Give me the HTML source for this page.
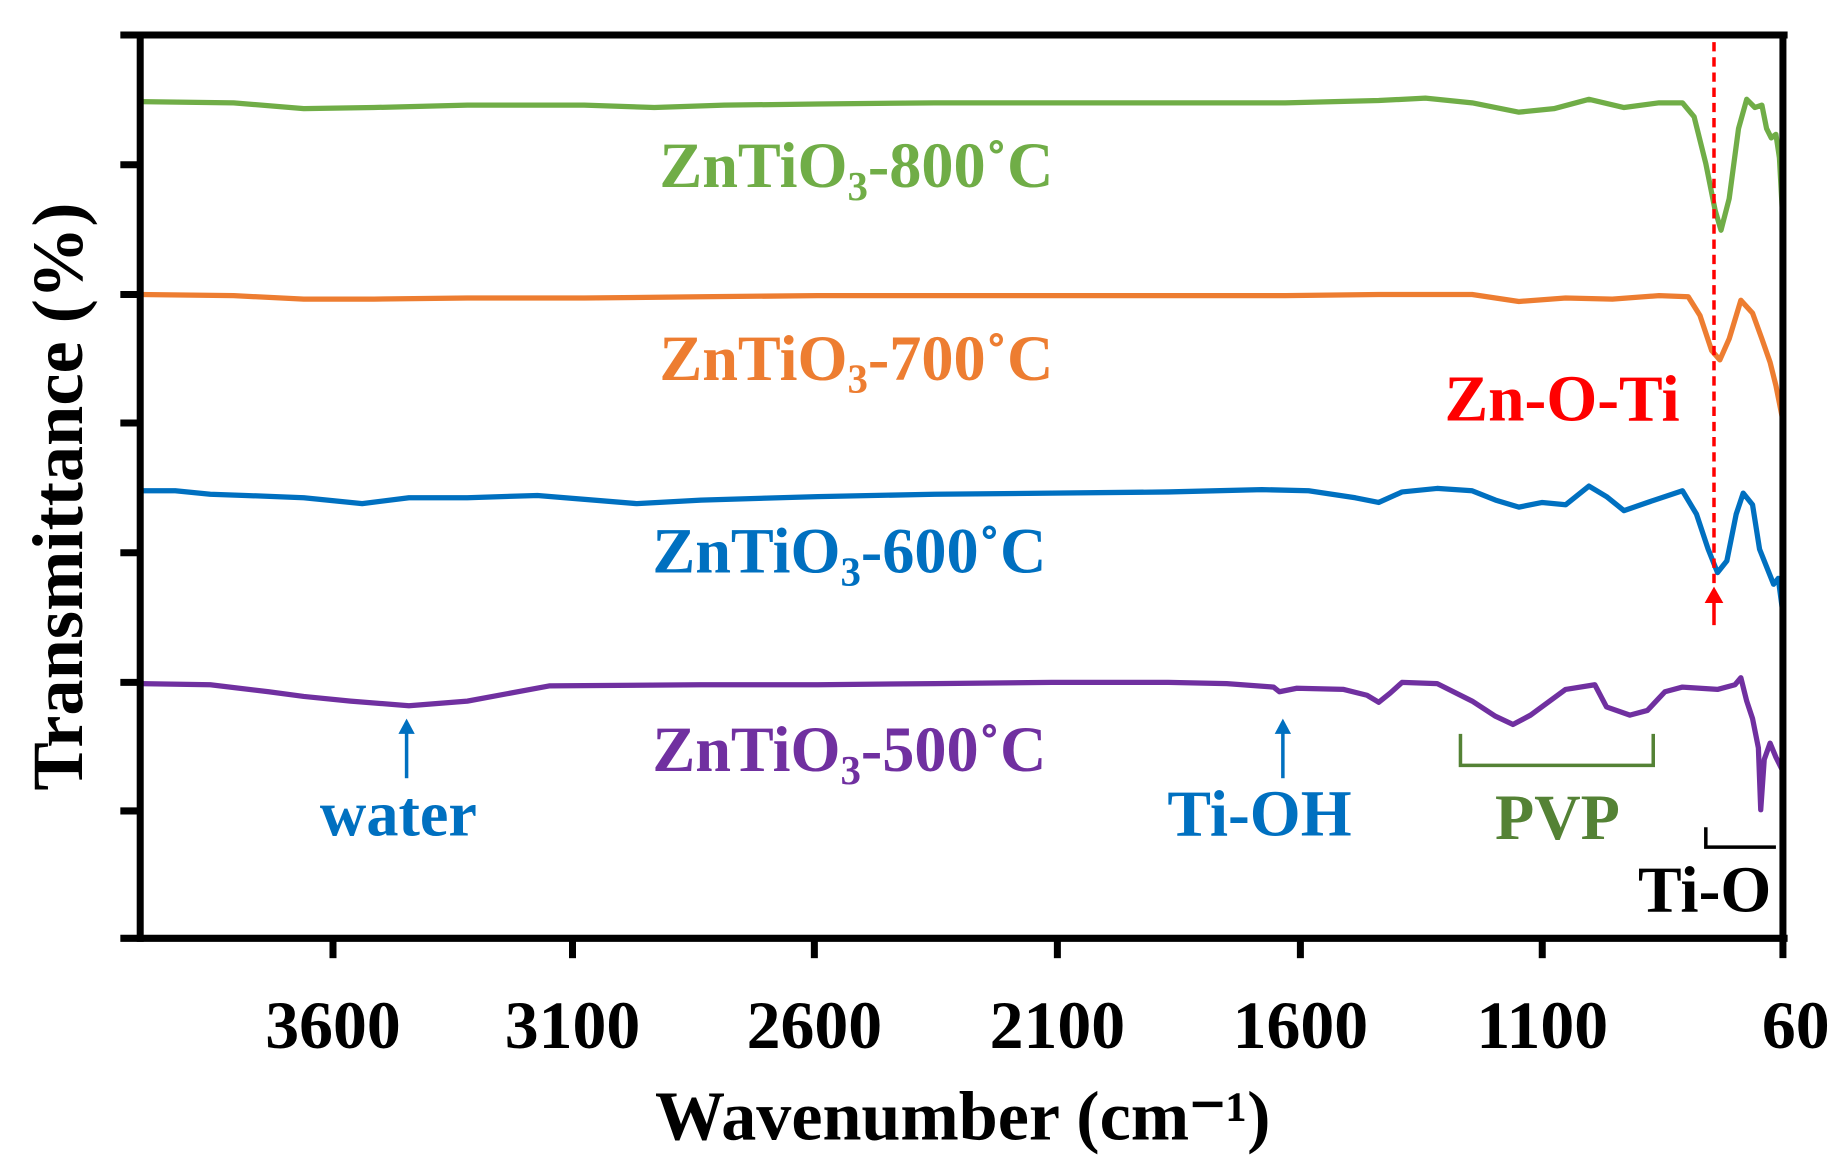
<!DOCTYPE html>
<html><head><meta charset="utf-8"><style>
html,body{margin:0;padding:0;background:#fff;}
svg{display:block;}
text{font-family:"Liberation Serif",serif;font-weight:bold;}
</style></head><body>
<svg width="1832" height="1165" viewBox="0 0 1568 997" preserveAspectRatio="none">
<g fill="none" stroke-linejoin="round" stroke-linecap="round" stroke-width="4.5">
<polyline stroke="#70ad47" points="120,87 200,88 260,93 320,92 400,90 500,90 560,92 620,90 700,89 800,88 900,88 1000,88 1100,88 1180,86 1220,84 1260,88 1300,96 1330,93 1360,85 1390,92 1420,88 1440,88 1450,100 1460,140 1468,180 1473,197 1480,170 1488,110 1495,85 1502,92 1508,90 1512,110 1516,118 1520,115 1523,135 1526,190"/>
<polyline stroke="#ed7d31" points="120,252 200,253 260,256 320,256 400,255 500,255 600,254 700,253 800,253 900,253 1000,253 1100,253 1180,252 1260,252 1300,258 1340,255 1380,256 1420,253 1445,254 1455,270 1465,300 1472,308 1480,290 1490,257 1500,268 1508,290 1515,310 1520,330 1526,360"/>
<polyline stroke="#0070c0" points="120,420 150,420 180,423 210,424 260,426 310,431 350,426 400,426 460,424 545,431 600,428 700,425 800,423 900,422 1000,421 1080,419 1120,420 1160,426 1180,430 1200,421 1230,418 1260,420 1280,428 1300,434 1320,430 1340,432 1360,416 1375,425 1390,437 1410,430 1440,420 1452,440 1462,470 1470,490 1478,480 1486,440 1492,422 1500,432 1506,470 1512,485 1518,500 1522,495 1526,525"/>
<polyline stroke="#7030a0" points="120,585 180,586 230,592 260,596 300,600 350,604 400,600 470,587 600,586 700,586 800,585 900,584 1000,584 1050,585 1090,588 1095,592 1110,589 1150,590 1170,595 1180,601 1190,593 1200,584 1230,585 1260,600 1280,613 1295,620 1310,612 1340,590 1365,586 1375,605 1395,612 1410,608 1425,592 1440,588 1470,590 1485,586 1490,580 1495,600 1500,615 1505,640 1507,693 1510,650 1515,636 1520,648 1526,660"/>
</g>
<g stroke="#000" stroke-width="6" fill="none">
<line x1="120" y1="28" x2="120" y2="806"/>
<line x1="103" y1="30" x2="1530" y2="30"/>
<line x1="103" y1="803" x2="1530" y2="803"/>
<line x1="1526" y1="30" x2="1526" y2="820"/>
<line x1="103" y1="141" x2="120" y2="141"/>
<line x1="103" y1="252" x2="120" y2="252"/>
<line x1="103" y1="362" x2="120" y2="362"/>
<line x1="103" y1="473" x2="120" y2="473"/>
<line x1="103" y1="584" x2="120" y2="584"/>
<line x1="103" y1="694" x2="120" y2="694"/>
<line x1="285" y1="803" x2="285" y2="820"/>
<line x1="490" y1="803" x2="490" y2="820"/>
<line x1="697" y1="803" x2="697" y2="820"/>
<line x1="905" y1="803" x2="905" y2="820"/>
<line x1="1113" y1="803" x2="1113" y2="820"/>
<line x1="1320" y1="803" x2="1320" y2="820"/>
</g>
<g font-size="58" text-anchor="middle" fill="#000">
<text x="285" y="897">3600</text>
<text x="490" y="897">3100</text>
<text x="697" y="897">2600</text>
<text x="905" y="897">2100</text>
<text x="1113" y="897">1600</text>
<text x="1320" y="897">1100</text>
<text x="1508" y="897" text-anchor="start">600</text>
</g>
<text x="824" y="975" font-size="60" text-anchor="middle">Wavenumber (cm⁻¹)</text>
<text transform="translate(70,425) rotate(-90)" font-size="62" text-anchor="middle">Transmittance (%)</text>
<g font-size="55" text-anchor="middle">
<text x="733" y="160" fill="#70ad47">ZnTiO<tspan font-size="35" dy="11">3</tspan><tspan dy="-11">-800˚C</tspan></text>
<text x="733" y="325" fill="#ed7d31">ZnTiO<tspan font-size="35" dy="11">3</tspan><tspan dy="-11">-700˚C</tspan></text>
<text x="727" y="490" fill="#0070c0">ZnTiO<tspan font-size="35" dy="11">3</tspan><tspan dy="-11">-600˚C</tspan></text>
<text x="727" y="660" fill="#7030a0">ZnTiO<tspan font-size="35" dy="11">3</tspan><tspan dy="-11">-500˚C</tspan></text>
</g>
<line x1="1467" y1="36" x2="1467" y2="500" stroke="#ff0000" stroke-width="3" stroke-dasharray="8,5"/>
<line x1="1467" y1="510" x2="1467" y2="535" stroke="#ff0000" stroke-width="3"/>
<polygon points="1459,516 1467,502 1475,516" fill="#ff0000"/>
<text x="1337" y="360" font-size="56" text-anchor="middle" fill="#ff0000">Zn-O-Ti</text>
<g stroke="#0070c0" stroke-width="3"><line x1="348" y1="624" x2="348" y2="666"/><line x1="1098" y1="624" x2="1098" y2="666"/></g>
<polygon points="341,628 348,615 355,628" fill="#0070c0"/>
<polygon points="1091,628 1098,615 1105,628" fill="#0070c0"/>
<text x="341" y="715" font-size="55" text-anchor="middle" fill="#0070c0">water</text>
<text x="1078" y="715" font-size="56" text-anchor="middle" fill="#0070c0">Ti-OH</text>
<polyline points="1250,628 1250,655 1415,655 1415,628" fill="none" stroke="#548235" stroke-width="3"/>
<text x="1333" y="718" font-size="55" text-anchor="middle" fill="#548235">PVP</text>
<polyline points="1460,708 1460,725 1520,725" fill="none" stroke="#000" stroke-width="3"/>
<text x="1459" y="780" font-size="56" text-anchor="middle" fill="#000">Ti-O</text>
</svg>
</body></html>
